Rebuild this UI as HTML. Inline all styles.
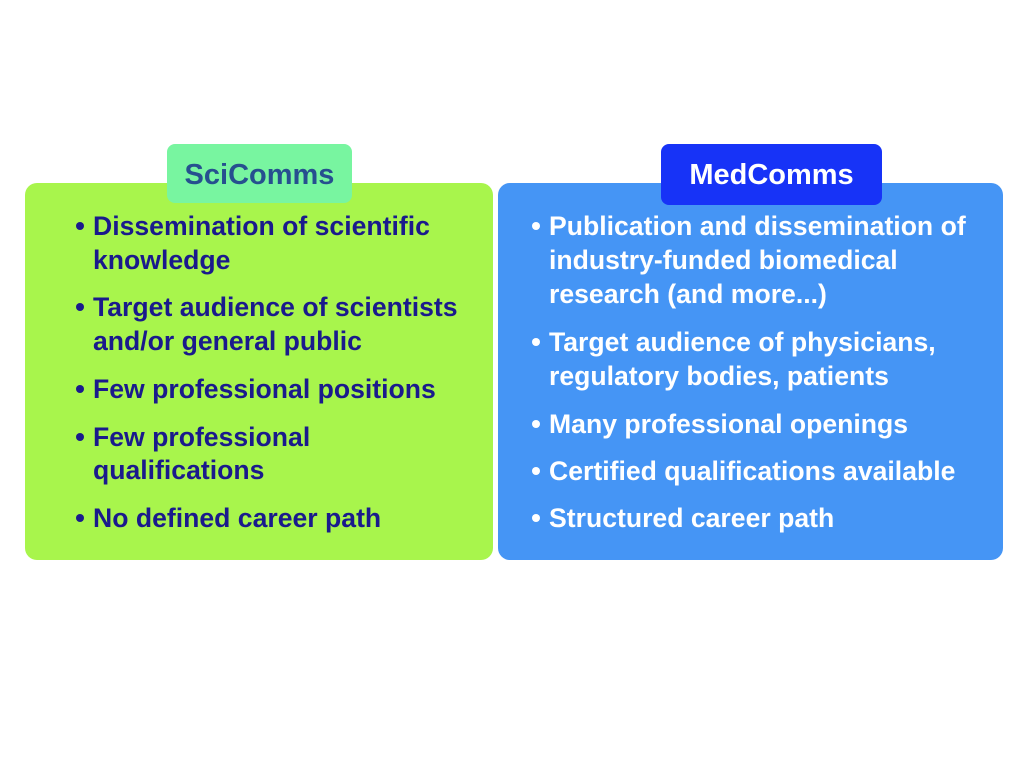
<!DOCTYPE html>
<html><head><style>
body{margin:0;width:1024px;height:768px;background:#fff;position:relative;overflow:hidden;font-family:"Liberation Sans",Arial,sans-serif;font-weight:bold}
.box{position:absolute;border-radius:12px}
.t{position:absolute;font-size:26.6px;line-height:30px;white-space:nowrap}
.l{color:#1a1a8c}
.r{color:#fff}
.b{position:absolute;width:8px;height:8px;border-radius:50%}
</style></head><body>
<div class="box" style="left:25px;top:183px;width:468px;height:377px;background:#a8f54c"></div>
<div class="box" style="left:498px;top:183px;width:505px;height:377px;background:#4595f5"></div>
<div class="box" style="left:167px;top:144px;width:185px;height:59px;background:#78f5a0;border-radius:8px"></div>
<div class="box" style="left:661px;top:144px;width:221px;height:61px;background:#1733f7;border-radius:8px"></div>
<div class="t" style="left:167px;width:185px;text-align:center;top:160px;color:#26508f;font-size:29px">SciComms</div>
<div class="t" style="left:661px;width:221px;text-align:center;top:160px;color:#fff;font-size:29px">MedComms</div>

<div class="b" style="left:76px;top:222px;background:#1a1a8c"></div>
<div class="t l" style="left:93px;top:211px">Dissemination of scientific</div>
<div class="t l" style="left:93px;top:245px">knowledge</div>
<div class="b" style="left:76px;top:303px;background:#1a1a8c"></div>
<div class="t l" style="left:93px;top:292px">Target audience of scientists</div>
<div class="t l" style="left:93px;top:326px">and/or general public</div>
<div class="b" style="left:76px;top:385px;background:#1a1a8c"></div>
<div class="t l" style="left:93px;top:374px">Few professional positions</div>
<div class="b" style="left:76px;top:433px;background:#1a1a8c"></div>
<div class="t l" style="left:93px;top:422px">Few professional</div>
<div class="t l" style="left:93px;top:455px">qualifications</div>
<div class="b" style="left:76px;top:514px;background:#1a1a8c"></div>
<div class="t l" style="left:93px;top:503px">No defined career path</div>

<div class="b" style="left:532px;top:222px;background:#fff"></div>
<div class="t r" style="left:549px;top:211px">Publication and dissemination of</div>
<div class="t r" style="left:549px;top:245px">industry-funded biomedical</div>
<div class="t r" style="left:549px;top:279px">research (and more...)</div>
<div class="b" style="left:532px;top:338px;background:#fff"></div>
<div class="t r" style="left:549px;top:327px">Target audience of physicians,</div>
<div class="t r" style="left:549px;top:361px">regulatory bodies, patients</div>
<div class="b" style="left:532px;top:420px;background:#fff"></div>
<div class="t r" style="left:549px;top:409px">Many professional openings</div>
<div class="b" style="left:532px;top:467px;background:#fff"></div>
<div class="t r" style="left:549px;top:456px">Certified qualifications available</div>
<div class="b" style="left:532px;top:514px;background:#fff"></div>
<div class="t r" style="left:549px;top:503px">Structured career path</div>
</body></html>
